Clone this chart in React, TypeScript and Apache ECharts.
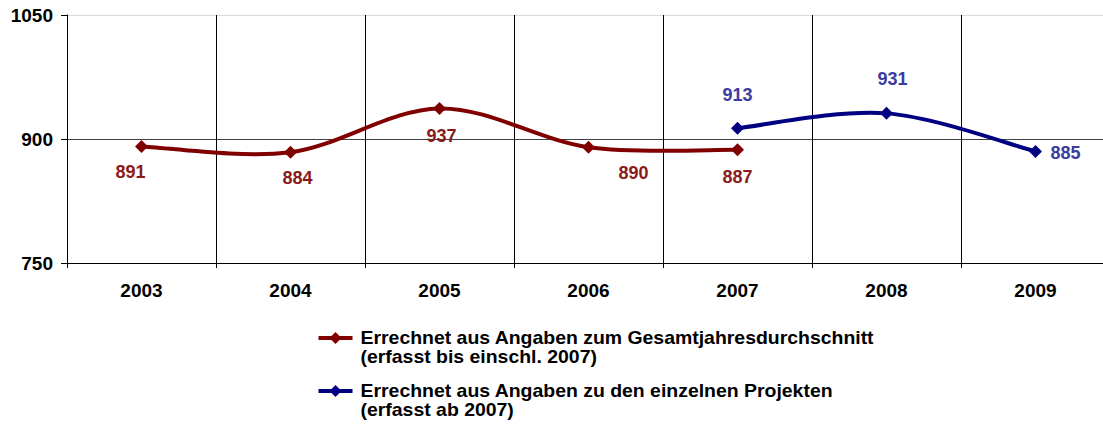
import React, { useEffect, useRef } from "react";
import * as echarts from "echarts";

const years = ["2003", "2004", "2005", "2006", "2007", "2008", "2009"];
const seriesRedName = "Errechnet aus Angaben zum Gesamtjahresdurchschnitt\n(erfasst bis einschl. 2007)";
const seriesBlueName = "Errechnet aus Angaben zu den einzelnen Projekten\n(erfasst ab 2007)";
const redValues: (number | null)[] = [891, 884, 937, 890, 887, null, null];
const blueValues: (number | null)[] = [null, null, null, null, 913, 931, 885];
const redLabelOffsets: number[][] = [[-11, 26], [7, 26], [2, 28], [45, 26], [0, 27], [0, 0], [0, 0]];
const blueLabelOffsets: number[][] = [[0, 0], [0, 0], [0, 0], [0, 0], [0, -33], [6, -34], [30, 2]];

const RED = "#800000";
const BLUE = "#000080";
const RED_LABEL = "#8B1A1A";
const BLUE_LABEL = "#3C3CA0";
const FONT = "'Liberation Sans', Arial, sans-serif";

function withLabels(values: (number | null)[], offsets: number[][], color: string) {
  return values.map((v, i) =>
    v == null
      ? null
      : {
          value: v,
          label: {
            show: true,
            position: "inside",
            offset: offsets[i],
            color,
            fontSize: 18,
            fontWeight: "bold",
            fontFamily: FONT,
          },
        }
  );
}

// Excel-like smooth curve (Catmull-Rom style Bezier) drawn via library coordinates
function smoothCurveSeries(values: (number | null)[], color: string) {
  const pts: number[][] = [];
  values.forEach((v, i) => {
    if (v != null) pts.push([i, v]);
  });
  return {
    type: "custom",
    data: pts,
    silent: true,
    z: 2,
    renderItem: (params: any, api: any) => {
      if (params.dataIndex !== 0) return null;
      const p = pts.map((d) => api.coord(d));
      const n = p.length;
      let d = `M${p[0][0]},${p[0][1]}`;
      for (let i = 0; i < n - 1; i++) {
        const p0 = p[Math.max(i - 1, 0)];
        const p1 = p[i];
        const p2 = p[i + 1];
        const p3 = p[Math.min(i + 2, n - 1)];
        const c1x = p1[0] + (p2[0] - p0[0]) / 6;
        const c1y = p1[1] + (p2[1] - p0[1]) / 6;
        const c2x = p2[0] - (p3[0] - p1[0]) / 6;
        const c2y = p2[1] - (p3[1] - p1[1]) / 6;
        d += ` C${c1x},${c1y} ${c2x},${c2y} ${p2[0]},${p2[1]}`;
      }
      return {
        type: "path",
        shape: { pathData: d },
        style: { stroke: color, lineWidth: 4, fill: "none", lineCap: "round", lineJoin: "round" },
      };
    },
  };
}

export default function App() {
  const ref = useRef<HTMLDivElement>(null);
  useEffect(() => {
    if (!ref.current) return;
    const chart = echarts.init(ref.current, undefined, { renderer: "svg" });
    const legendItem = (y: number, color: string, text: string) => ({
      type: "group",
      left: 316,
      top: y,
      children: [
        { type: "line", shape: { x1: 0, y1: 10, x2: 34, y2: 10 }, style: { stroke: color, lineWidth: 4 } },
        { type: "polygon", shape: { points: [[17, 4], [23, 10], [17, 16], [11, 10]] }, style: { fill: color } },
        {
          type: "text",
          x: 42,
          y: 0,
          scaleX: 1.08,
          style: {
            text,
            fill: "#000",
            font: `bold 18px ${FONT}`,
            lineHeight: 19.5,
          },
        },
      ],
    });
    chart.setOption({
      animation: false,
      backgroundColor: "#fff",
      grid: { left: 67, top: 15, right: 0, bottom: 166, containLabel: false },
      xAxis: {
        type: "category",
        data: years,
        boundaryGap: true,
        axisLine: { lineStyle: { color: "#000", width: 1 } },
        axisTick: { show: true, interval: 0, length: 5, lineStyle: { color: "#000" } },
        axisLabel: { color: "#000", fontSize: 19, fontWeight: "bold", fontFamily: FONT, margin: 18 },
        splitLine: { show: true, interval: 0, lineStyle: { color: "#000", width: 1 } },
      },
      yAxis: {
        type: "value",
        min: 750,
        max: 1050,
        interval: 150,
        axisLine: { show: true, lineStyle: { color: "#000" } },
        axisTick: { show: true, length: 6, lineStyle: { color: "#000" } },
        axisLabel: {
          color: "#000",
          fontSize: 19,
          fontWeight: "bold",
          fontFamily: FONT,
          margin: 14,
          formatter: (v: number) => String(v),
        },
        splitLine: { show: true, lineStyle: { color: ["#000", "#404040", "#d9d9d9"], width: 1 } },
      },
      series: [
        smoothCurveSeries(redValues, RED),
        smoothCurveSeries(blueValues, BLUE),
        {
          name: seriesRedName,
          type: "line",
          data: withLabels(redValues, redLabelOffsets, RED_LABEL),
          symbol: "diamond",
          symbolSize: 13,
          lineStyle: { width: 0, opacity: 0 },
          itemStyle: { color: RED },
          z: 3,
        },
        {
          name: seriesBlueName,
          type: "line",
          data: withLabels(blueValues, blueLabelOffsets, BLUE_LABEL),
          symbol: "diamond",
          symbolSize: 13,
          lineStyle: { width: 0, opacity: 0 },
          itemStyle: { color: BLUE },
          z: 3,
        },
      ],
      graphic: [
        legendItem(328, RED, seriesRedName),
        legendItem(381, BLUE, seriesBlueName),
      ],
    });
    return () => chart.dispose();
  }, []);
  return (
    <div style={{ width: 1103, height: 429, position: "absolute", left: 0, top: 0, overflow: "hidden" }}>
      <div ref={ref} style={{ width: 1110, height: 429, position: "absolute", left: 0, top: 0 }} />
    </div>
  );
}
